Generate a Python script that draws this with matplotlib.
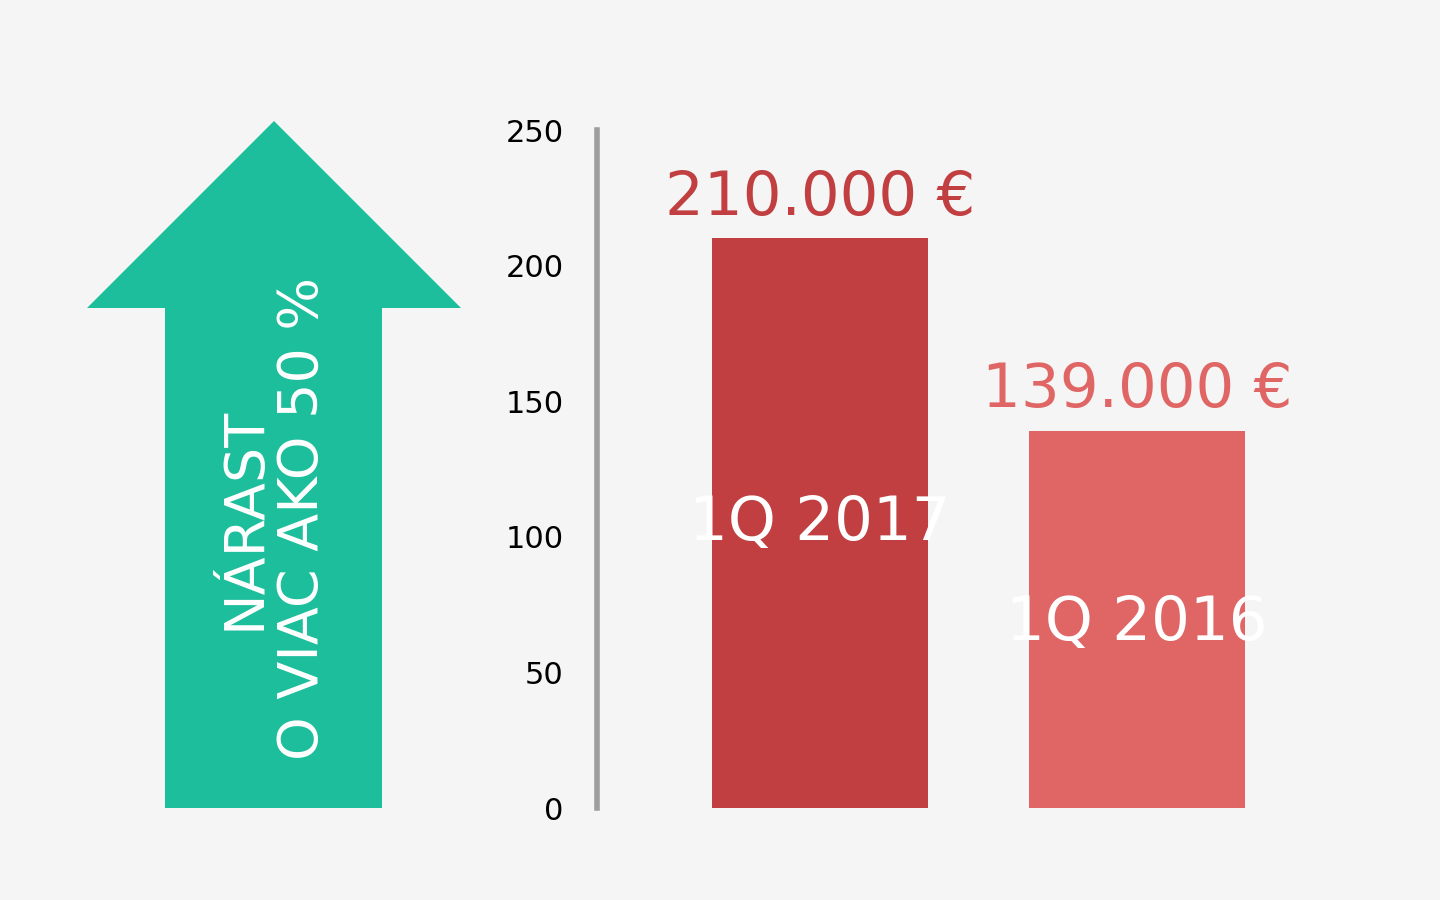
import matplotlib
matplotlib.use("Agg")
import matplotlib.pyplot as plt
from matplotlib.patches import Polygon
from matplotlib import font_manager

# data
labels = ["1Q 2017", "1Q 2016"]
values = [210, 139]
value_texts = ["210.000 €", "139.000 €"]
bar_colors = ["#c13f40", "#e06666"]
yticks = [0, 50, 100, 150, 200, 250]
arrow_text = "NÁRAST\nO VIAC AKO 50 %"

names = {f.name for f in font_manager.fontManager.ttflist}
family = "Liberation Sans Narrow" if "Liberation Sans Narrow" in names else "DejaVu Sans"
plt.rcParams["font.family"] = family

fig = plt.figure(figsize=(14.4, 9), dpi=100)
fig.patch.set_facecolor("#f5f5f5")

# up arrow in pixel-ish figure coords
W, H = 1440, 900
pts = [(165, 808), (165, 308), (87, 308), (274, 121), (461, 308), (382, 308), (382, 808)]
arrow = Polygon([(x / W, 1 - y / H) for x, y in pts], closed=True,
                transform=fig.transFigure, facecolor="#1dbe9b", edgecolor="none")
fig.patches.append(arrow)
fig.text(274 / W, 1 - 518 / H, arrow_text, rotation=90, ha="center", va="center",
         color="white", fontsize=40, linespacing=1.1)

ax = fig.add_axes([597 / W, 1 - 808 / H, 703 / W, (808 - 130) / H])
ax.set_facecolor("#f5f5f5")
xs = [0.317, 0.768]
ax.bar(xs, values, width=0.307, color=bar_colors)
ax.set_xlim(0, 1)
ax.set_ylim(0, 250)
ax.set_yticks(yticks)
ax.tick_params(axis="y", length=0, pad=24, labelsize=22)
ax.set_xticks([])
for s in ["top", "right", "bottom"]:
    ax.spines[s].set_visible(False)
ax.spines["left"].set_color("#9e9e9e")
ax.spines["left"].set_linewidth(4)

for x, v, t, c, lab, ly in zip(xs, values, value_texts, bar_colors, labels, [105, 68]):
    ax.text(x, v + 4, t, ha="center", va="bottom", color=c, fontsize=44)
    ax.text(x, ly, lab, ha="center", va="center", color="white", fontsize=44)

fig.savefig("out.png", dpi=100, facecolor=fig.get_facecolor())
